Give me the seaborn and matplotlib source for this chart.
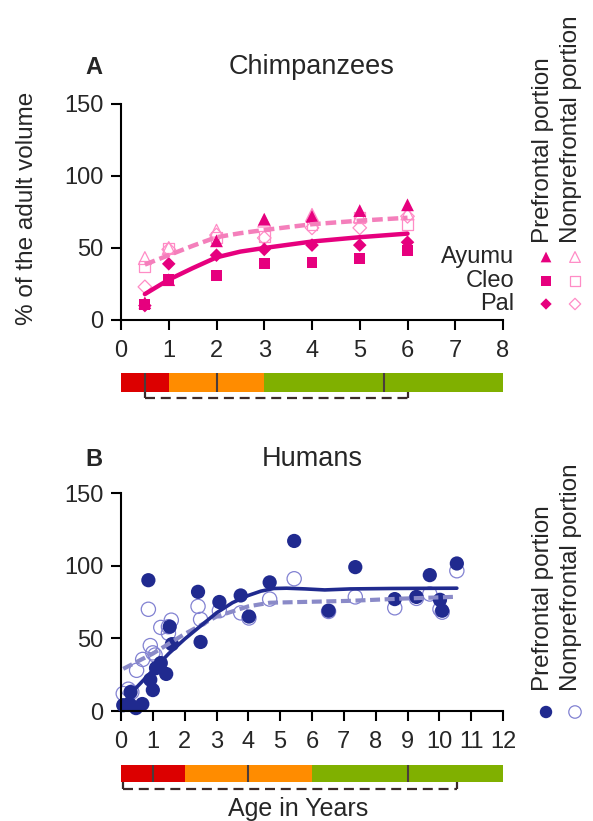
import numpy as np
import pandas as pd
import matplotlib
matplotlib.use("Agg")
import matplotlib.pyplot as plt
import seaborn as sns

# ---------------- data ----------------
chimp_ages = [0.5, 1, 2, 3, 4, 5, 6]
ayumu_pf = [12, 28, 55, 70, 72, 76, 80]
cleo_pf = [11, 28, 31, 39, 40, 43, 48]
pal_pf = [10, 39, 45, 49, 52, 52, 54]
ayumu_npf = [43, 50, 62, 69, 73, 72, 74]
cleo_npf = [37, 50, 57, 58, 66, 71, 66]
pal_npf = [23, 49, 59, 57, 64, 64, 72]

chimp_fit_ages = [0.5, 1, 1.5, 2, 2.5, 3, 4, 5, 6]
chimp_fit_pf = [18, 28, 36, 43.5, 47.5, 50, 54.5, 57.5, 60]
chimp_fit_npf = [38.5, 45, 51.5, 57.5, 60.3, 62.5, 66.5, 69, 71]

human_age_pf = [0.07, 0.28, 0.30, 0.47, 0.67, 0.86, 0.92, 1.0, 1.1, 1.25, 1.42,
                1.53, 1.6, 2.42, 2.5, 3.09, 3.76, 4.02, 4.67, 5.44, 6.52, 7.36,
                8.6, 9.28, 9.7, 10.02, 10.09, 10.55]
human_val_pf = [4, 4.6, 13, 2, 4.8, 90, 21.5, 14.4, 29.5, 33, 25.5,
                58, 46, 82, 47.5, 75, 79.5, 65, 88.5, 117, 69, 99,
                77, 78.5, 93.5, 76.5, 69, 101.5]
human_age_npf = [0.07, 0.23, 0.34, 0.49, 0.68, 0.86, 0.92, 1.0, 1.07, 1.25, 1.49,
                 1.49, 1.58, 2.42, 2.5, 3.09, 3.76, 4.02, 4.67, 5.44, 6.52, 7.36,
                 8.6, 9.28, 9.7, 10.02, 10.09, 10.55]
human_val_npf = [12, 15, 13, 28, 35.5, 70, 45, 40, 38.5, 57.5, 53.5,
                 58, 62.5, 72, 63, 69, 67.5, 64, 77, 91, 68.5, 78.5,
                 71, 77.5, 80.5, 70, 68, 96.5]

human_fit_ages_pf = [0.07, 0.5, 1.0, 1.5, 2.0, 2.5, 3.0, 3.5, 4.0, 4.4, 4.8,
                     5.2, 5.8, 6.4, 7.2, 8.5, 10.55]
human_fit_pf = [5.5, 16.5, 28, 39.5, 49.5, 58.5, 67.5, 74.5, 79.5, 82.5, 84.3,
                84.5, 84, 83.3, 84, 84.3, 84.5]
human_fit_ages_npf = [0.07, 1.0, 2.0, 3.0, 4.0, 4.67, 5.65, 7.2, 8.8, 10.55]
human_fit_npf = [29, 39.5, 53, 65, 72, 74.5, 75, 75.8, 77.3, 78.6]

chimp_stage_edges = [0, 1, 3, 8]
chimp_stage_marks = [0.5, 2, 5.5]
chimp_bracket = [0.5, 6]
human_stage_edges = [0, 2, 6, 12]
human_stage_marks = [1, 4, 9]
human_bracket = [0.07, 10.55]
stage_colors = ["#dc0000", "#ff8c00", "#80b000"]

chimp_names = ["Ayumu", "Cleo", "Pal"]
chimp_markers = ["^", "s", "D"]

# ---------------- style ----------------
sns.set_style("ticks")
plt.rcParams["font.family"] = ["Liberation Sans", "DejaVu Sans"]

W, H = 593, 821
fig = plt.figure(figsize=(W / 100, H / 100), dpi=100)


def px_axes(l, t, r, b):
    return fig.add_axes([l / W, 1 - b / H, (r - l) / W, (b - t) / H])


PINK = "#e6007e"
PINK_L = "#f47fbb"
PINK_H = "#ff8cc6"
NAVY = "#202a8f"
NAVY_L = "#8a8ac8"
NAVY_H = "#8282d2"
FS = 17


def style_main(ax, xmax, xticks):
    ax.set_xlim(0, xmax)
    ax.set_ylim(0, 150)
    ax.set_xticks(xticks)
    ax.set_yticks([0, 50, 100, 150])
    sns.despine(ax=ax)
    for s in ["left", "bottom"]:
        ax.spines[s].set_linewidth(1.5)
        ax.spines[s].set_color("black")
    ax.tick_params(axis="both", length=7.5, width=1.5, labelsize=FS, color="black")
    ax.tick_params(axis="x", pad=7)
    ax.tick_params(axis="y", pad=5)
    ax.set_xlabel("")
    ax.set_ylabel("")
    ax.patch.set_alpha(0)


def stage_bar(ax, edges, marks, bracket, by):
    lefts = edges[:-1]
    widths = [edges[i + 1] - edges[i] for i in range(len(edges) - 1)]
    ax.barh(y=[0.5] * len(lefts), width=widths, left=lefts, height=1,
            color=stage_colors, edgecolor="none")
    ax.vlines(marks, 0, 1, color="#4a3c3c", linewidth=1.5)
    ax.plot(bracket, [by, by], color="#3a2a2a", linewidth=1.6,
            linestyle=(0, (4.5, 2.6)), clip_on=False, solid_capstyle="butt")
    ax.vlines(bracket, by, 0, color="#3a2a2a", linewidth=1.6, clip_on=False)
    ax.set_xlim(edges[0], edges[-1])
    ax.set_ylim(-0.5, 1)
    ax.axis("off")


# ---------------- Panel A ----------------
axA = px_axes(121, 104, 503, 320)
sns.lineplot(x=chimp_fit_ages, y=chimp_fit_npf, ax=axA, color=PINK_L, linewidth=3.2,
             linestyle=(0, (2.4, 1.1)))
sns.lineplot(x=chimp_fit_ages, y=chimp_fit_pf, ax=axA, color=PINK, linewidth=3.2)
npf_sets = [ayumu_npf, cleo_npf, pal_npf]
pf_sets = [ayumu_pf, cleo_pf, pal_pf]
sizes = [85, 62, 48]
for vals, m, s in zip(npf_sets, chimp_markers, sizes):
    sns.scatterplot(x=chimp_ages, y=vals, ax=axA, marker=m, s=s, color=PINK_H,
                    facecolor="none", edgecolor=PINK_H, linewidth=0.9, clip_on=False)
for vals, m, s in zip(pf_sets, chimp_markers, sizes):
    sns.scatterplot(x=chimp_ages, y=vals, ax=axA, marker=m, s=s, color=PINK,
                    edgecolor="none", clip_on=False)
style_main(axA, 8, list(range(0, 9)))

barA = px_axes(121, 373, 503, 401.5)
stage_bar(barA, chimp_stage_edges, chimp_stage_marks, chimp_bracket, -0.32)

# ---------------- Panel B ----------------
axB = px_axes(121, 493, 503, 711)
sns.lineplot(x=human_fit_ages_npf, y=human_fit_npf, ax=axB, color=NAVY_L, linewidth=3,
             linestyle=(0, (2.4, 1.1)))
sns.lineplot(x=human_fit_ages_pf, y=human_fit_pf, ax=axB, color=NAVY, linewidth=2.6)
sns.scatterplot(x=human_age_npf, y=human_val_npf, ax=axB, marker="o", s=105,
                color=NAVY_H, facecolor="none", edgecolor=NAVY_H, linewidth=0.9,
                clip_on=False)
sns.scatterplot(x=human_age_pf, y=human_val_pf, ax=axB, marker="o", s=105,
                color=NAVY, edgecolor="none", clip_on=False)
style_main(axB, 12, list(range(0, 13)))

barB = px_axes(121, 765, 503, 790.5)
stage_bar(barB, human_stage_edges, human_stage_marks, human_bracket, -0.41)

# ---------------- overlay texts & legends ----------------
ov = fig.add_axes([0, 0, 1, 1])
ov.set_xlim(0, W)
ov.set_ylim(H, 0)
ov.axis("off")
ov.patch.set_alpha(0)

ov.text(94, 68, "A", fontsize=17, fontweight="bold", ha="center", va="center")
ov.text(312, 67, "Chimpanzees", fontsize=19.5, ha="center", va="center")
ov.text(94, 459, "B", fontsize=17, fontweight="bold", ha="center", va="center")
ov.text(312, 459, "Humans", fontsize=19.5, ha="center", va="center")
ov.text(27, 208, "% of the adult volume", fontsize=17.5, rotation=90,
        ha="center", va="center")
ov.text(298, 809, "Age in Years", fontsize=18, ha="center", va="center")

LFS = 17.5
# Panel A legend
ov.text(543, 243, "Prefrontal portion", fontsize=LFS, rotation=90, ha="center", va="bottom")
ov.text(571, 243, "Nonprefrontal portion", fontsize=LFS, rotation=90, ha="center", va="bottom")
leg_y = [257, 281, 304]
for name, m, s, y in zip(chimp_names, chimp_markers, sizes, leg_y):
    ov.text(514, y, name, fontsize=FS, ha="right", va="center")
    ov.scatter([546], [y], marker=m, s=s * 0.7, color=PINK, edgecolor="none")
    ov.scatter([575], [y], marker=m, s=s * 0.7, facecolor="none", edgecolor=PINK_H,
               linewidth=0.9)

# Panel B legend
ov.text(543, 691, "Prefrontal portion", fontsize=LFS, rotation=90, ha="center", va="bottom")
ov.text(571, 691, "Nonprefrontal portion", fontsize=LFS, rotation=90, ha="center", va="bottom")
ov.scatter([546], [712], marker="o", s=80, color=NAVY, edgecolor="none")
ov.scatter([575], [712], marker="o", s=80, facecolor="none", edgecolor=NAVY_H, linewidth=0.9)

fig.savefig("out.png", dpi=100)
